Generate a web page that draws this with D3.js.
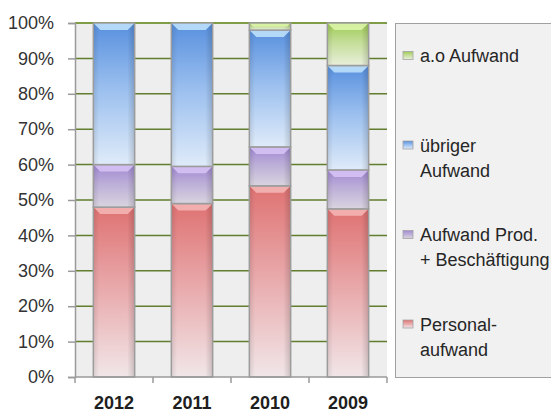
<!DOCTYPE html>
<html>
<head>
<meta charset="utf-8">
<script src="https://cdn.jsdelivr.net/npm/d3@7"></script>
<style>
  body { margin: 0; background: #fff; }
  text { font-family: "Liberation Sans", Arial, sans-serif; }
</style>
</head>
<body>
<script>
// values, stacked bottom to top
var years = ["2012", "2011", "2010", "2009"]
var personal = [48, 49, 54, 47.5]
var prod = [12, 10.5, 11, 11]
var uebriger = [40, 40.5, 33, 29.5]
var ao = [0, 0, 2, 12]
var yTicks = [0, 10, 20, 30, 40, 50, 60, 70, 80, 90, 100]

var seriesKeys = ["personal", "prod", "uebriger", "ao"]
var legendKeys = ["ao", "uebriger", "prod", "personal"]
var legendLabels = [["a.o Aufwand"], ["übriger", "Aufwand"],
                    ["Aufwand Prod.", "+ Beschäftigung"], ["Personal-", "aufwand"]]

var palette = {
  "personal": {"top": "#df7272", "mid": "#e8a6a8", "bottom": "#f1e6e8", "bevel": "#f4b4b4"},
  "prod":     {"top": "#a189d2", "mid": "#bcaed8", "bottom": "#d9d4df", "bevel": "#d6c2f4"},
  "uebriger": {"top": "#5890de", "mid": "#99beee", "bottom": "#dfebf9", "bevel": "#bde0fb"},
  "ao":       {"top": "#9fca55", "mid": "#c4de98", "bottom": "#e8efdb", "bevel": "#dcf4a8"}
}

function Chart() {
  this.width = 551
  this.height = 414
  this.plot = {"left": 75, "right": 387, "top": 23, "bottom": 377}
  this.xScale
  this.yScale
}

main()

function main()
{
  var c = new Chart()
  var table = years.map(function(y, i) {
    return {"year": y, "personal": personal[i], "prod": prod[i],
            "uebriger": uebriger[i], "ao": ao[i]}
  })
  var stacked = d3.stack().keys(seriesKeys)(table)

  c.xScale = d3.scaleBand()
    .domain(years)
    .range([c.plot.left, c.plot.right])
    .paddingInner(0.47)
    .paddingOuter(0.235)

  c.yScale = d3.scaleLinear()
    .domain([0, 100])
    .range([c.plot.bottom, c.plot.top])

  var svg = d3.select("body")
    .append("svg")
    .attr("width", c.width)
    .attr("height", c.height)

  addDefs(svg)
  addBackground(svg, c)
  addBars(svg, c, stacked)
  addAxes(svg, c)
  addLegend(svg, c)
}

function addDefs(svg)
{
  var defs = svg.append("defs")
  seriesKeys.forEach(function(k) {
    var g = defs.append("linearGradient")
      .attr("id", "grad_" + k)
      .attr("x1", 0).attr("y1", 0).attr("x2", 0).attr("y2", 1)
    g.append("stop").attr("offset", "0%").attr("stop-color", palette[k].top)
    g.append("stop").attr("offset", "45%").attr("stop-color", palette[k].mid)
    g.append("stop").attr("offset", "100%").attr("stop-color", palette[k].bottom)
  })

  // darker left / right edges of each bar
  var e = defs.append("linearGradient")
    .attr("id", "edge")
    .attr("x1", 0).attr("y1", 0).attr("x2", 1).attr("y2", 0)
  e.append("stop").attr("offset", "0%").attr("stop-color", "#000").attr("stop-opacity", 0.10)
  e.append("stop").attr("offset", "14%").attr("stop-color", "#000").attr("stop-opacity", 0)
  e.append("stop").attr("offset", "82%").attr("stop-color", "#000").attr("stop-opacity", 0)
  e.append("stop").attr("offset", "100%").attr("stop-color", "#000").attr("stop-opacity", 0.16)
}

function addBackground(svg, c)
{
  svg.append("rect")
    .attr("x", c.plot.left)
    .attr("y", c.plot.top)
    .attr("width", c.plot.right - c.plot.left)
    .attr("height", c.plot.bottom - c.plot.top)
    .attr("fill", "#eeeeee")

  svg.append("g")
    .attr("id", "grid")
    .selectAll("line")
    .data(yTicks.filter(function(t) { return t > 0 }))
    .enter()
    .append("line")
    .attr("x1", c.plot.left)
    .attr("x2", c.plot.right)
    .attr("y1", function(d) { return c.yScale(d) })
    .attr("y2", function(d) { return c.yScale(d) })
    .attr("stroke", function(d) { return d == 100 ? "#7f9c46" : "#617d2e" })
    .attr("stroke-width", function(d) { return d == 100 ? 2 : 1.5 })
}

function addBars(svg, c, stacked)
{
  var bw = c.xScale.bandwidth()
  var layers = svg.append("g")
    .attr("id", "bars")
    .selectAll("g")
    .data(stacked)
    .enter()
    .append("g")
    .attr("class", function(d) { return "layer_" + d.key })

  layers.each(function(layer) {
    var g = d3.select(this)
    var segs = layer.filter(function(d) { return d[1] - d[0] > 0 })
    segs.forEach(function(d) {
      var x = c.xScale(d.data.year)
      var y0 = c.yScale(d[1])
      var h = c.yScale(d[0]) - y0
      var b = Math.min(7, h / 2)

      g.append("rect")
        .attr("x", x).attr("y", y0)
        .attr("width", bw).attr("height", h)
        .attr("fill", "url(#grad_" + layer.key + ")")

      g.append("rect")
        .attr("x", x).attr("y", y0)
        .attr("width", bw).attr("height", h)
        .attr("fill", "url(#edge)")

      // bevel at top of segment
      g.append("polygon")
        .attr("points", [[x, y0], [x + bw, y0], [x + bw - b, y0 + b], [x + b, y0 + b]].join(" "))
        .attr("fill", palette[layer.key].bevel)
        .attr("opacity", 0.9)

      g.append("rect")
        .attr("x", x).attr("y", y0)
        .attr("width", bw).attr("height", h)
        .attr("fill", "none")
        .attr("stroke", "#9c9c9c")
        .attr("stroke-width", 1.5)
    })
  })
}

function addAxes(svg, c)
{
  var yAxis = d3.axisLeft(c.yScale)
    .tickValues(yTicks)
    .tickFormat(function(d) { return d + "%" })
    .tickSize(7)
    .tickPadding(14)

  var ya = svg.append("g")
    .attr("id", "yAxis")
    .attr("transform", "translate(" + c.plot.left + ",0)")
    .call(yAxis)
  ya.select(".domain").attr("stroke", "#9a9a9a").attr("stroke-width", 1.5)
  ya.selectAll(".tick line").attr("stroke", "#9a9a9a").attr("stroke-width", 1.5)
  ya.selectAll("text")
    .attr("fill", "#333")
    .style("font-size", "18px")

  // x axis line with ticks at category boundaries
  var bounds = d3.range(years.length + 1).map(function(i) {
    return c.plot.left + i * c.xScale.step()
  })
  var xa = svg.append("g").attr("id", "xAxis")
  xa.append("line")
    .attr("x1", c.plot.left).attr("x2", c.plot.right)
    .attr("y1", c.plot.bottom).attr("y2", c.plot.bottom)
    .attr("stroke", "#9a9a9a").attr("stroke-width", 1.5)
  xa.selectAll("line.tk")
    .data(bounds)
    .enter()
    .append("line")
    .attr("class", "tk")
    .attr("x1", function(d) { return d }).attr("x2", function(d) { return d })
    .attr("y1", c.plot.bottom).attr("y2", c.plot.bottom + 6)
    .attr("stroke", "#9a9a9a").attr("stroke-width", 1.5)
  xa.selectAll("text")
    .data(years)
    .enter()
    .append("text")
    .attr("x", function(d) { return c.xScale(d) + c.xScale.bandwidth() / 2 })
    .attr("y", 409)
    .attr("text-anchor", "middle")
    .attr("fill", "#1e1e1e")
    .style("font-size", "18px")
    .style("font-weight", "bold")
    .text(function(d) { return d })
}

function addLegend(svg, c)
{
  var lg = svg.append("g").attr("id", "legend")
  lg.append("rect")
    .attr("x", 395.5).attr("y", 23.5)
    .attr("width", 200).attr("height", 354)
    .attr("fill", "#f1f1f1")
    .attr("stroke", "#a0a0a0")

  legendKeys.forEach(function(k, i) {
    var base = 62 + i * 89.5
    lg.append("rect")
      .attr("x", 403).attr("y", base - 10.5)
      .attr("width", 10).attr("height", 8)
      .attr("fill", "url(#grad_" + k + ")")
      .attr("stroke", "#a3a3a3")
      .attr("stroke-width", 0.8)
    legendLabels[i].forEach(function(line, j) {
      lg.append("text")
        .attr("x", 420)
        .attr("y", base + j * 25)
        .attr("fill", "#262626")
        .style("font-size", "18px")
        .text(line)
    })
  })
}
</script>
</body>
</html>
